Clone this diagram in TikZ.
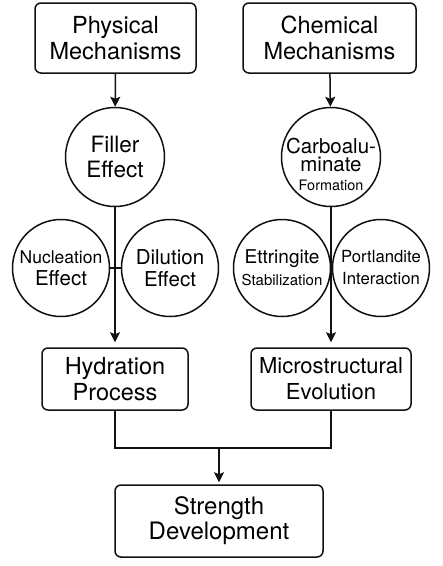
\documentclass[tikz,border=0pt]{standalone}
\usepackage{fontspec}
\setmainfont{TeX Gyre Heros}
\usepackage{xcolor}
\usepackage{tikz}
\usetikzlibrary{positioning, arrows.meta, calc}
\definecolor{inkline}{HTML}{111111}
\newcommand{\fsz}[2]{\fontsize{#1}{#2}\selectfont}

\begin{document}
\begin{tikzpicture}[x=1pt, y=-1pt, line width=1.5pt, draw=inkline,
    mechbox/.style={draw=inkline, rounded corners=6pt, inner sep=0pt, align=center},
    bubble/.style={draw=inkline, circle, inner sep=0pt, minimum size=97pt, align=center},
    arr/.style={-{Stealth[length=10pt, width=10pt, inset=2pt]}}]
    \useasboundingbox (0,0) rectangle (443,566);

    \node[mechbox, minimum width=161pt, minimum height=70pt, font=\fsz{23.5}{26}] (phys)
      at (115.5,38) {Physical\\Mechanisms};
    \node[mechbox, minimum width=173pt, minimum height=70pt, font=\fsz{23.5}{26}] (chem)
      at (329.5,38) {Chemical\\Mechanisms};

    \node[bubble, minimum size=99pt, font=\fsz{22.5}{25}] (filler) at (115,157) {Filler\\Effect};
    \node[bubble, minimum size=99pt, inner sep=-25pt, font=\fsz{20.5}{18.5}] (carbo) at (331,157)
      {\rule{0pt}{30pt}Carboalu-\\minate\\\fsz{14.4}{18.5}Formation};

    \node[bubble, font=\fsz{20.5}{22}] (nucl) at (61,268) {\fsz{17.5}{22}Nucleation\\Effect};
    \node[bubble, font=\fsz{20.5}{22}] (dil) at (170,268) {Dilution\\Effect};
    \node[bubble, font=\fsz{19}{22}] (ettr) at (282,268) {Ettringite\\\fsz{15}{22}Stabilization};
    \node[bubble, font=\fsz{16.7}{22}] (port) at (381,268) {Portlandite\\Interaction};

    \node[mechbox, minimum width=146pt, minimum height=62pt, font=\fsz{23.5}{26}] (hydr)
      at (115,379) {Hydration\\Process};
    \node[mechbox, minimum width=160pt, minimum height=62pt, font=\fsz{22}{26}] (micro)
      at (331,379) {Microstructural\\Evolution};
    \node[mechbox, minimum width=208pt, minimum height=72pt, font=\fsz{24}{25}] (strength)
      at (219,521) {Strength\\Development};

    \coordinate (join) at (219,448);

    \draw[arr] (phys) -- (filler);
    \draw[arr] (chem) -- (carbo);
    \draw[arr, shorten >=5pt] (filler) -- (hydr);
    \draw[arr, shorten >=5pt] (carbo) -- (micro);
    \draw (nucl.east) -- (dil.west);
    \draw (ettr.east) -- (port.west);
    \draw (hydr.south) |- (join) -| (micro.south);
    \draw[arr, shorten >=2pt] (join) -- (strength);
\end{tikzpicture}
\end{document}
